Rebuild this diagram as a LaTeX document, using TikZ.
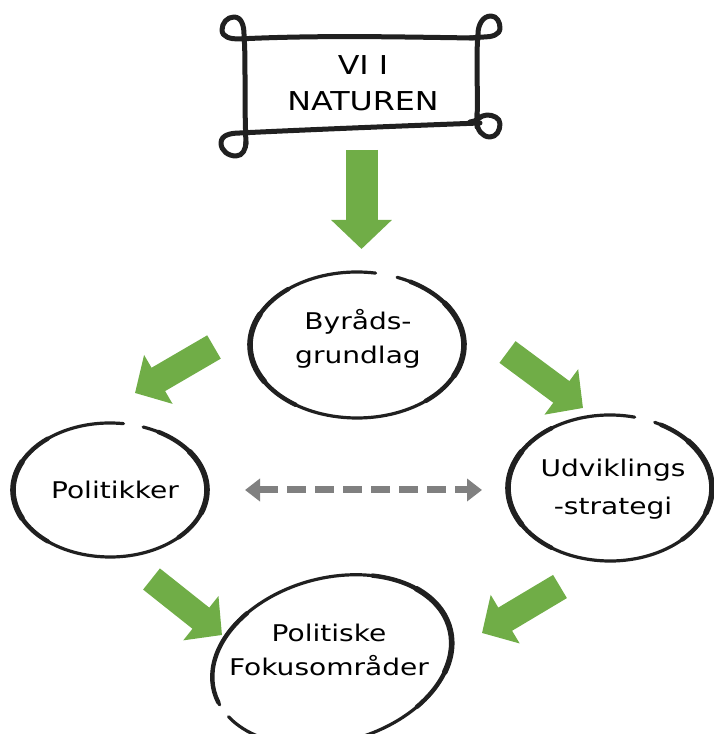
\documentclass[tikz,border=0pt]{standalone}
\usepackage{fontspec}
\setmainfont{DejaVu Sans}[FakeStretch=1.22]
\usetikzlibrary{arrows.meta}
\definecolor{leaf}{RGB}{112,173,71}
\definecolor{ink}{RGB}{32,32,32}
\definecolor{dgray}{RGB}{128,128,128}
\begin{document}
\begin{tikzpicture}[x=1pt,y=1pt,
  pen/.style={draw=ink, line width=3.2pt, line cap=round},
  penmid/.style={draw=ink, line width=4.4pt, line cap=round},
  penthick/.style={draw=ink, line width=5.6pt, line cap=round},
  frame/.style={draw=ink, line width=5pt, line cap=round, line join=round},
  flow/.style={draw=leaf, line width=27pt, -{Triangle[length=27pt,width=55pt]}},
  bigflow/.style={draw=leaf, line width=32pt, -{Triangle[length=29pt,width=59pt]}},
  link/.style={draw=dgray, line width=7pt, dash pattern=on 19pt off 9pt,
    {Triangle[length=15pt,width=22pt]}-{Triangle[length=15pt,width=22pt]}},
  lbl/.style={font=\fontsize{23}{34}\selectfont, align=center, inner sep=0pt, text=black}]
\useasboundingbox (0,0) rectangle (713,734);

% ---- title scroll ----
\node[lbl, font=\fontsize{26}{36}\selectfont] (vi) at (363,651) {VI I\\NATUREN};
\draw[frame] (246,590) .. controls (244,640) and (246,670) .. (244,700)
  to[out=90,in=0] (234,717) to[out=180,in=90] (222,704) to[out=-90,in=180] (238,695)
  .. controls (320,699) and (400,697) .. (474,696);
\draw[frame] (477,607) .. controls (478,650) and (476,680) .. (478,700)
  to[out=90,in=180] (491,718) to[out=0,in=90] (500,706) to[out=-90,in=0] (484,697) -- (470,696);
\draw[frame] (480,611) .. controls (400,608) and (300,604) .. (240,601)
  to[out=180,in=90] (221,591) to[out=-90,in=180] (236,578) to[out=0,in=-90] (246,592);
\draw[frame] (477,620) -- (477,612) to[out=-90,in=180] (490,597) to[out=0,in=-90] (500,610)
  to[out=90,in=0] (487,619) to[out=180,in=0] (470,612);

% ---- ellipse centres ----
\coordinate (byrc) at (357,389);
\coordinate (polc) at (110,244);
\coordinate (udvc) at (610,246);
\coordinate (fokc) at (332,74);

% ---- text nodes ----
\node[lbl] (byr) at (358,395) {Byråds-\\grundlag};
\node[lbl] (pol) at (115,244) {Politikker};
\node[lbl, font=\fontsize{23}{38}\selectfont] (udv) at (613,245) {Udviklings\\-strategi};
\node[lbl] (fok) at (329,84) {Politiske\\Fokusområder};

% ---- hand drawn rings ----
\draw[pen] (byrc) ++(80:107pt and 73pt) arc[start angle=80, end angle=428, x radius=107pt, y radius=73pt];
\draw[penmid] (byrc) ++(130:107pt and 73pt) arc[start angle=130, end angle=235, x radius=107pt, y radius=73pt];
\draw[penthick] (byrc) ++(155:107pt and 73pt) arc[start angle=155, end angle=210, x radius=107pt, y radius=73pt];
\draw[penmid] (byrc) ++(-50:107pt and 73pt) arc[start angle=-50, end angle=60, x radius=107pt, y radius=73pt];
\draw[penthick] (byrc) ++(-25:107pt and 73pt) arc[start angle=-25, end angle=35, x radius=107pt, y radius=73pt];

\draw[pen] (polc) ++(82:97pt and 67pt) arc[start angle=82, end angle=430, x radius=97pt, y radius=67pt];
\draw[penmid] (polc) ++(130:97pt and 67pt) arc[start angle=130, end angle=230, x radius=97pt, y radius=67pt];
\draw[penthick] (polc) ++(155:97pt and 67pt) arc[start angle=155, end angle=205, x radius=97pt, y radius=67pt];
\draw[penmid] (polc) ++(-45:97pt and 67pt) arc[start angle=-45, end angle=60, x radius=97pt, y radius=67pt];
\draw[penthick] (polc) ++(-20:97pt and 67pt) arc[start angle=-20, end angle=35, x radius=97pt, y radius=67pt];

\draw[pen] (udvc) ++(76:102pt and 73pt) arc[start angle=76, end angle=424, x radius=102pt, y radius=73pt];
\draw[penmid] (udvc) ++(125:102pt and 73pt) arc[start angle=125, end angle=235, x radius=102pt, y radius=73pt];
\draw[penthick] (udvc) ++(150:102pt and 73pt) arc[start angle=150, end angle=210, x radius=102pt, y radius=73pt];
\draw[penmid] (udvc) ++(-45:102pt and 73pt) arc[start angle=-45, end angle=60, x radius=102pt, y radius=73pt];
\draw[penthick] (udvc) ++(-20:102pt and 73pt) arc[start angle=-20, end angle=40, x radius=102pt, y radius=73pt];

\begin{scope}[shift={(fokc)}, rotate=15]
  \draw[pen] (200:122pt and 82pt) arc[start angle=200, end angle=550, x radius=122pt, y radius=82pt];
  \draw[penmid] (-55:122pt and 82pt) arc[start angle=-55, end angle=60, x radius=122pt, y radius=82pt];
  \draw[penthick] (-30:122pt and 82pt) arc[start angle=-30, end angle=35, x radius=122pt, y radius=82pt];
  \draw[penmid] (125:122pt and 82pt) arc[start angle=125, end angle=188, x radius=122pt, y radius=82pt];
\end{scope}

% ---- connectors ----
\coordinate (d1) at (361.5,584);  \coordinate (d2) at (361.5,485);
\coordinate (l1) at (214,387);    \coordinate (l2) at (135,341);
\coordinate (r1) at (507.5,382);  \coordinate (r2) at (583,326);
\coordinate (bl1) at (151.5,155); \coordinate (bl2) at (222,99);
\coordinate (br1) at (560,147.5); \coordinate (br2) at (482,101);
\coordinate (k1) at (245,244);    \coordinate (k2) at (482,244);

\draw[bigflow] (d1) -- (d2);
\draw[flow] (l1) -- (l2);
\draw[flow] (r1) -- (r2);
\draw[flow] (bl1) -- (bl2);
\draw[flow] (br1) -- (br2);
\draw[link] (k1) -- (k2);
\end{tikzpicture}
\end{document}
